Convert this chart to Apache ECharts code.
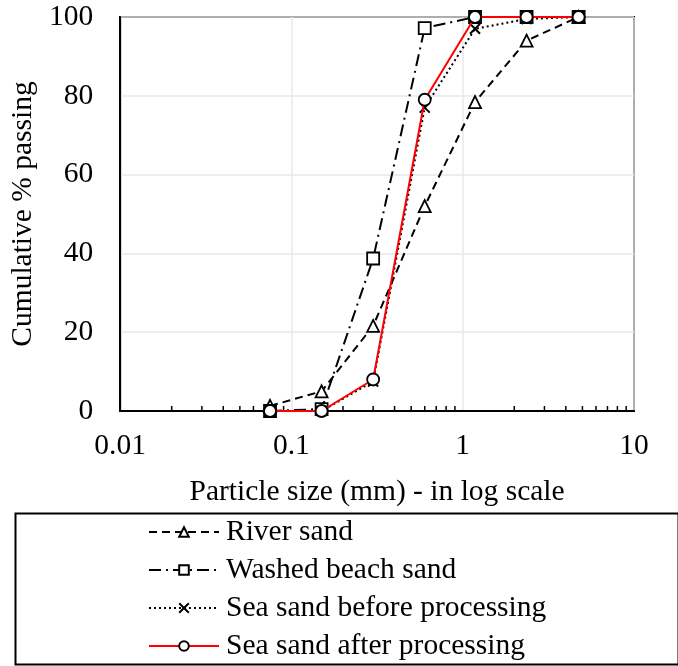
<!DOCTYPE html>
<html><head><meta charset="utf-8">
<script src="https://cdn.jsdelivr.net/npm/echarts@6/dist/echarts.min.js"></script>
<style>html,body{margin:0;padding:0;background:#fff}#c{width:678px;height:666px}</style>
</head><body><div id="c"></div>
<script>
const sieveSizes = [0.075, 0.15, 0.3, 0.6, 1.18, 2.36, 4.75];
const riverSand = [1.3, 5, 21.6, 52, 78.4, 94, 100];
const washedBeachSand = [0, 0.5, 38.7, 97.2, 100, 100, 100];
const seaSandBefore = [0, 0, 7.5, 77, 97, 99.5, 100];
const seaSandAfter = [0, 0, 8, 79, 100, 100, 100];
const seriesNames = ['River sand', 'Washed beach sand', 'Sea sand before processing', 'Sea sand after processing'];
const minorTickValues = [0.02,0.03,0.04,0.05,0.06,0.07,0.08,0.09,0.2,0.3,0.4,0.5,0.6,0.7,0.8,0.9,2,3,4,5,6,7,8,9];
const xAxisTitle = 'Particle size (mm) - in log scale';
const yAxisTitle = 'Cumulative % passing';

const FONT = '"Liberation Serif", "Times New Roman", serif';
const FS = 29.5;
const pair = arr => sieveSizes.map((s, i) => [s, arr[i]]);
const crossPath = 'path://M0,0L10,10M10,0L0,10';

const chart = echarts.init(document.getElementById('c'), null, {renderer: 'canvas'});
const markerStyle = {color: '#fff', borderColor: '#000', borderWidth: 1.8};

chart.setOption({
  animation: false,
  backgroundColor: '#fff',
  textStyle: {fontFamily: FONT},
  grid: {left: 119, right: 44, top: 17, bottom: 255, show: true, borderColor: '#000', borderWidth: 2, containLabel: false},
  xAxis: {
    type: 'log', logBase: 10, min: 0.01, max: 10,
    name: xAxisTitle, nameLocation: 'middle', nameGap: 66,
    nameTextStyle: {fontFamily: FONT, fontSize: FS, color: '#000'},
    axisLine: {show: true, onZero: false, lineStyle: {color: '#000', width: 2}},
    axisTick: {show: false},
    axisLabel: {fontFamily: FONT, fontSize: FS, color: '#000', margin: 20,
      formatter: v => String(Number(v.toPrecision(3)))},
    splitLine: {show: true, lineStyle: {color: '#e8e8e8', width: 1.5}}
  },
  yAxis: {
    type: 'value', min: 0, max: 100, interval: 20,
    name: yAxisTitle, nameLocation: 'middle', nameGap: 76,
    nameTextStyle: {fontFamily: FONT, fontSize: FS, color: '#000'},
    axisLine: {show: true, lineStyle: {color: '#000', width: 2}},
    axisTick: {show: false},
    axisLabel: {fontFamily: FONT, fontSize: FS, color: '#000', margin: 27},
    splitLine: {show: true, lineStyle: {color: '#e8e8e8', width: 1.5}}
  },
  legend: {
    data: seriesNames,
    orient: 'vertical', left: 148, top: 517, padding: 0,
    itemWidth: 70, itemHeight: 12, itemGap: 8,
    textStyle: {fontFamily: FONT, fontSize: FS, color: '#000', lineHeight: 30, padding: [0, 0, 0, 2]},
    inactiveColor: '#000'
  },
  graphic: [{
    type: 'rect', left: 13, top: 511, shape: {width: 663, height: 151},
    style: {fill: 'none', stroke: '#000', lineWidth: 2}, z: -1
  }],
  series: [
    {
      type: 'custom', name: 'minorTicks', silent: true, clip: false,
      data: minorTickValues.map(v => [v]),
      encode: {x: 0},
      renderItem: (params, api) => {
        const p = api.coord([api.value(0), 0]);
        return {type: 'line', shape: {x1: p[0], y1: p[1], x2: p[0], y2: p[1] - 5},
          style: {stroke: '#000', lineWidth: 1.5}};
      },
      z: 1
    },
    {
      name: seriesNames[0], type: 'line', data: pair(riverSand),
      symbol: 'triangle', symbolSize: 12,
      lineStyle: {color: '#000', width: 2, type: [8, 5]},
      itemStyle: markerStyle, z: 3
    },
    {
      name: seriesNames[1], type: 'line', data: pair(washedBeachSand),
      symbol: 'rect', symbolSize: 12,
      lineStyle: {color: '#000', width: 2, type: [12, 5, 2, 5]},
      itemStyle: markerStyle, z: 3
    },
    {
      name: seriesNames[2], type: 'line', data: pair(seaSandBefore),
      symbol: crossPath, symbolSize: 10,
      lineStyle: {color: '#000', width: 2, type: [2, 3]},
      itemStyle: {color: '#fff', borderColor: '#000', borderWidth: 2}, z: 3
    },
    {
      name: seriesNames[3], type: 'line', data: pair(seaSandAfter),
      symbol: 'circle', symbolSize: 12,
      lineStyle: {color: '#ff0000', width: 2, type: 'solid'},
      itemStyle: markerStyle, z: 4
    }
  ]
});
</script>
</body></html>
